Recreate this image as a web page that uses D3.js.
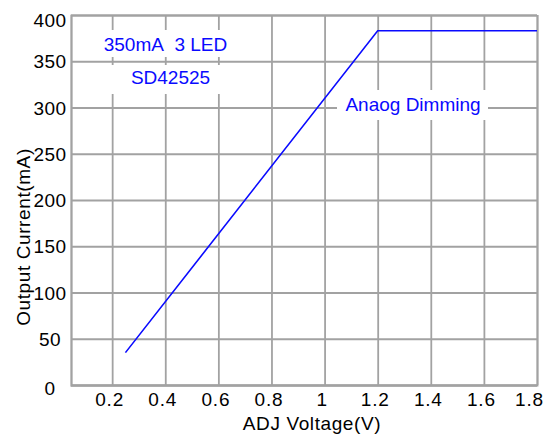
<!DOCTYPE html>
<html>
<head>
<meta charset="utf-8">
<script src="https://cdn.jsdelivr.net/npm/d3@7"></script>
<style>
  html, body { margin: 0; padding: 0; background: #fff; }
  svg { display: block; font-family: "Liberation Sans", Arial, sans-serif; }
</style>
</head>
<body>
<svg id="chart" width="553" height="439"></svg>
<script>
// ---- data ----
const voltage = [0.25, 1.2, 1.8];          // ADJ Voltage (V)
const current = [35, 383, 383];            // Output Current (mA)
const xTicks = [0.2, 0.4, 0.6, 0.8, 1, 1.2, 1.4, 1.6, 1.8];
const yTicks = [0, 50, 100, 150, 200, 250, 300, 350, 400];
const notes = ["350mA\u00a0\u00a03 LED", "SD42525"];
const curveLabel = "Anaog Dimming";
const xTitle = "ADJ Voltage(V)";
const yTitle = "Output Current(mA)";

// ---- layout ----
const L = 71, R = 537, T = 15, B = 385;
const svg = d3.select("#chart");
const x = d3.scaleLinear().domain([0.045, 1.8]).range([L, R]);
const y = d3.scaleLinear().domain([0, 400]).range([B, T]);
const gridColor = "#a2a2a2";
const blue = "#0a0aff";

// grid + axes
const gx = svg.append("g").attr("transform", `translate(0,${B})`)
  .call(d3.axisBottom(x).tickValues(xTicks).tickSize(-(B - T)).tickFormat(d3.format("~g")));
gx.select(".domain").attr("stroke", gridColor).attr("stroke-width", 1.8);
gx.selectAll(".tick line").attr("stroke", gridColor).attr("stroke-width", 1.8);
gx.selectAll(".tick text")
  .attr("fill", "#000").attr("font-size", 19).attr("letter-spacing", "0.8px")
  .attr("font-family", "Liberation Sans, Arial, sans-serif")
  .attr("y", 21).attr("dy", 0).attr("dx", -3)
  .attr("dominant-baseline", "alphabetic");
gx.selectAll(".tick text").filter(d => d === 1.8).attr("dx", -8);

const gy = svg.append("g").attr("transform", `translate(${L},0)`)
  .call(d3.axisLeft(y).tickValues(yTicks).tickSize(-(R - L)));
gy.select(".domain").attr("stroke", gridColor).attr("stroke-width", 1.8);
gy.selectAll(".tick line").attr("stroke", gridColor).attr("stroke-width", 1.8);
gy.selectAll(".tick text")
  .attr("fill", "#000").attr("font-size", 19).attr("letter-spacing", "0.4px")
  .attr("font-family", "Liberation Sans, Arial, sans-serif")
  .attr("text-anchor", "middle").attr("x", 50 - L)
  .attr("dy", d => (d === 400 ? 5 : d === 0 ? 3 : 0) + 6.5 + "px");

// white label boxes (interrupt the grid)
const boxes = [
  { x0: 100, x1: 232, y0: 30, y1: 57 },
  { x0: 100, x1: 232, y0: 65, y1: 94 },
  { x0: 337, x1: 488, y0: 90, y1: 120 }
];
svg.append("g").selectAll("rect").data(boxes).join("rect")
  .attr("x", d => d.x0).attr("y", d => d.y0)
  .attr("width", d => d.x1 - d.x0).attr("height", d => d.y1 - d.y0)
  .attr("fill", "#fff");

// curve
const line = d3.line().x(d => x(d[0])).y(d => y(d[1]));
svg.append("path")
  .datum(voltage.map((v, i) => [v, current[i]]))
  .attr("d", line)
  .attr("fill", "none").attr("stroke", blue).attr("stroke-width", 1.6);

// annotations
svg.append("text").attr("x", 165.5).attr("y", 50.5).attr("text-anchor", "middle")
  .attr("font-size", 19).attr("fill", blue).text(notes[0]);
svg.append("text").attr("x", 170.5).attr("y", 84).attr("text-anchor", "middle")
  .attr("font-size", 19).attr("fill", blue).text(notes[1]);
svg.append("text").attr("x", 413).attr("y", 110.5).attr("text-anchor", "middle")
  .attr("font-size", 19).attr("fill", blue).text(curveLabel);

// axis titles
svg.append("text").attr("x", 312).attr("y", 430).attr("text-anchor", "middle")
  .attr("font-size", 19).attr("letter-spacing", "0.6px").attr("fill", "#000").text(xTitle);
svg.append("text").attr("transform", "translate(30,237) rotate(-90)").attr("text-anchor", "middle")
  .attr("font-size", 19).attr("letter-spacing", "0.6px").attr("fill", "#000").text(yTitle);
</script>
</body>
</html>
